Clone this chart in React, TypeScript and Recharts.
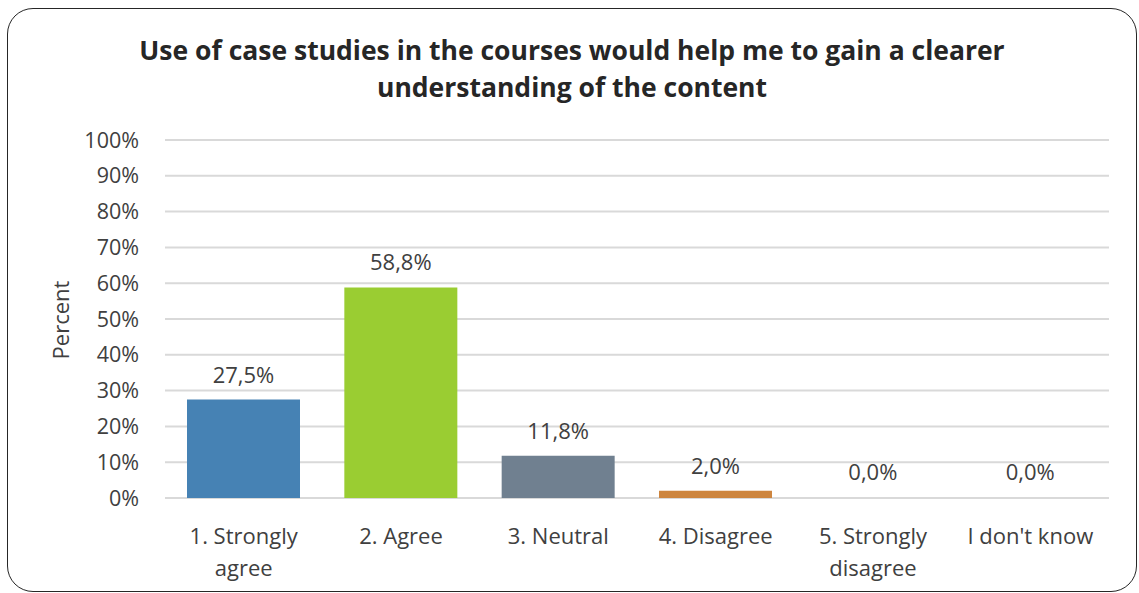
import { BarChart, Bar, XAxis, YAxis, CartesianGrid, Cell, LabelList } from 'recharts';

const categories = ['1. Strongly agree', '2. Agree', '3. Neutral', '4. Disagree', '5. Strongly disagree', "I don't know"];
const percents = [27.5, 58.8, 11.8, 2.0, 0.0, 0.0];
const barColors = ['#4682B4', '#9ACD32', '#708090', '#CD853F', 'transparent', 'transparent'];
const yTicks = [0, 10, 20, 30, 40, 50, 60, 70, 80, 90, 100];

const data = categories.map((c, i) => ({ name: c, value: percents[i] }));

const FONT = '"Open Sans", sans-serif';
const TEXT = '#404040';

const fmt = (v: number) => v.toFixed(1).replace('.', ',') + '%';

// break long category names at the last space, like the original
const splitLabel = (s: string) => {
  if (s.length <= 13) return [s];
  const k = s.lastIndexOf(' ');
  return [s.slice(0, k), s.slice(k + 1)];
};

function CategoryTick(props: any) {
  const { x, y, payload } = props;
  const lines = splitLabel(String(payload.value));
  return (
    <text x={x} y={y + 44} textAnchor="middle" fill={TEXT} fontSize={22} fontFamily={FONT}>
      {lines.map((l, i) => (
        <tspan key={i} x={x} dy={i === 0 ? 0 : 32}>
          {l}
        </tspan>
      ))}
    </text>
  );
}

export default function App() {
  return (
    <div style={{ position: 'absolute', left: 0, top: 0, width: 1139, height: 593, background: '#fff', fontFamily: FONT }}>
      <div
        style={{
          position: 'absolute',
          left: 7,
          top: 8,
          width: 1128,
          height: 582,
          border: '1.5px solid #262626',
          borderRadius: 26,
        }}
      />
      <div
        style={{
          position: 'absolute',
          left: 0,
          top: 32,
          width: 1144,
          textAlign: 'center',
          fontWeight: 700,
          fontSize: 26.5,
          lineHeight: '37px',
          color: '#262626',
        }}
      >
        Use of case studies in the courses would help me to gain a clearer
        <br />
        understanding of the content
      </div>
      <div
        style={{
          position: 'absolute',
          left: 60,
          top: 320,
          transform: 'translate(-50%, -50%) rotate(-90deg)',
          fontSize: 22,
          color: TEXT,
          whiteSpace: 'nowrap',
        }}
      >
        Percent
      </div>
      <BarChart
        width={1139}
        height={593}
        data={data}
        margin={{ top: 140, right: 30, left: 0, bottom: 65 }}
        style={{ position: 'absolute', left: 0, top: 0 }}
      >
        <CartesianGrid vertical={false} stroke="#d9d9d9" strokeWidth={2} />
        <XAxis
          dataKey="name"
          height={30}
          axisLine={false}
          tickLine={false}
          tickSize={0}
          interval={0}
          tick={<CategoryTick />}
        />
        <YAxis
          width={165}
          domain={[0, 100]}
          ticks={yTicks}
          axisLine={false}
          tickLine={false}
          tickSize={0}
          tickMargin={26}
          tickFormatter={(v: number) => v + '%'}
          tick={{ fill: TEXT, fontSize: 21.5, fontFamily: FONT }}
        />
        <Bar dataKey="value" barSize={113} minPointSize={1} isAnimationActive={false}>
          {data.map((d, i) => (
            <Cell key={d.name} fill={barColors[i]} />
          ))}
          <LabelList
            dataKey="value"
            position="top"
            offset={17}
            formatter={(v: any) => fmt(Number(v))}
            fill={TEXT}
            fontSize={22}
            fontFamily={FONT}
          />
        </Bar>
      </BarChart>
    </div>
  );
}
